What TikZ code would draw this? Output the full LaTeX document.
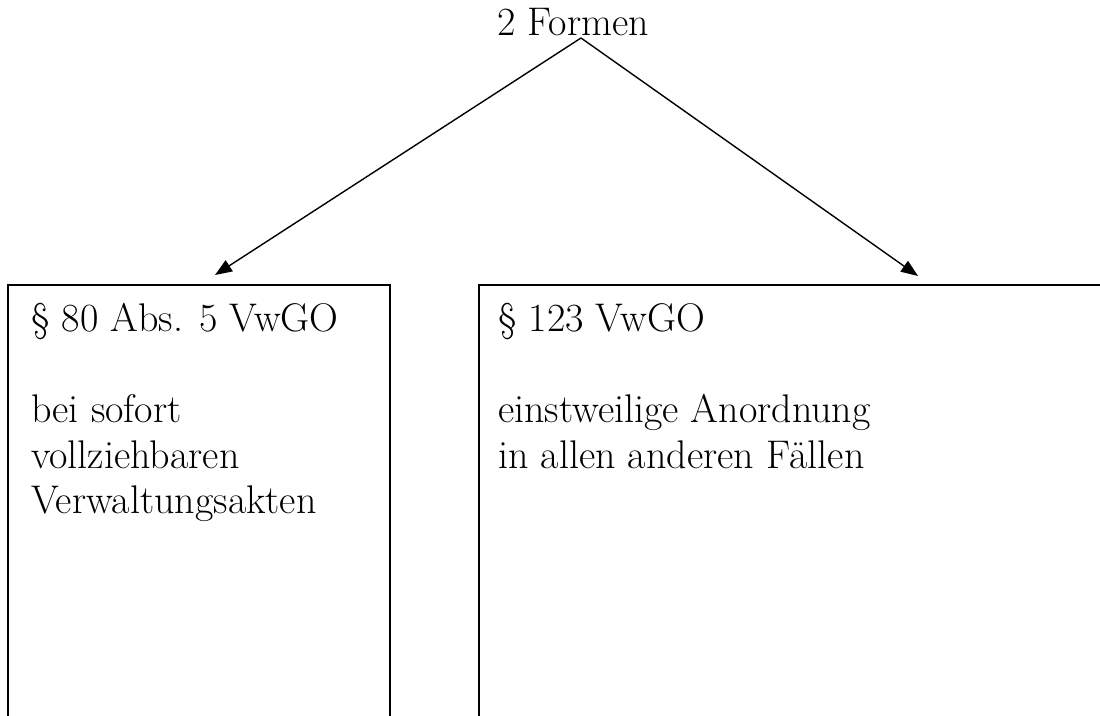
\documentclass[tikz,border=0pt]{standalone}
\usetikzlibrary{arrows.meta}
\tikzset{
  x=1pt, y=1pt,
  txt/.style={inner sep=0pt, anchor=base west, font=\fontsize{40}{45.5}\selectfont},
  frame/.style={line width=1.8pt, draw=black},
  link/.style={line width=1.4pt, -{Triangle[length=17pt,width=13pt]}}
}
\begin{document}
\begin{tikzpicture}
  \useasboundingbox (0,0) rectangle (1100,715);
  \clip (0,0) rectangle (1100,715);
  \fill[white] (0,0) rectangle (1100,715);

  % heading and the point where both arrows start
  \node[txt] (title) at (497,679) {2 Formen};
  \coordinate (apex) at (581,677);

  % two open-bottomed frames
  \draw[frame] (8,-10) -- (8,430) -- (390,430) -- (390,-10);
  \draw[frame] (479,-10) -- (479,430) -- (1110,430);
  \coordinate (lefttop) at (215,440);
  \coordinate (righttop) at (918,439);

  % arrows to the two frames
  \draw[link] (apex) -- (lefttop);
  \draw[link] (apex) -- (righttop);

  % left frame text
  \node[txt] (l1) at (31,383) {\S\ 80 Abs. 5 VwGO};
  \node[txt] (l2) at (31,292) {bei sofort};
  \node[txt] (l3) at (31,246.5) {vollziehbaren};
  \node[txt] (l4) at (31,201) {Verwaltungsakten};

  % right frame text
  \node[txt] (r1) at (498,383) {\S\ 123 VwGO};
  \node[txt] (r2) at (498,292) {einstweilige Anordnung};
  \node[txt] (r3) at (498,246.5) {in allen anderen F\"allen};
\end{tikzpicture}
\end{document}
